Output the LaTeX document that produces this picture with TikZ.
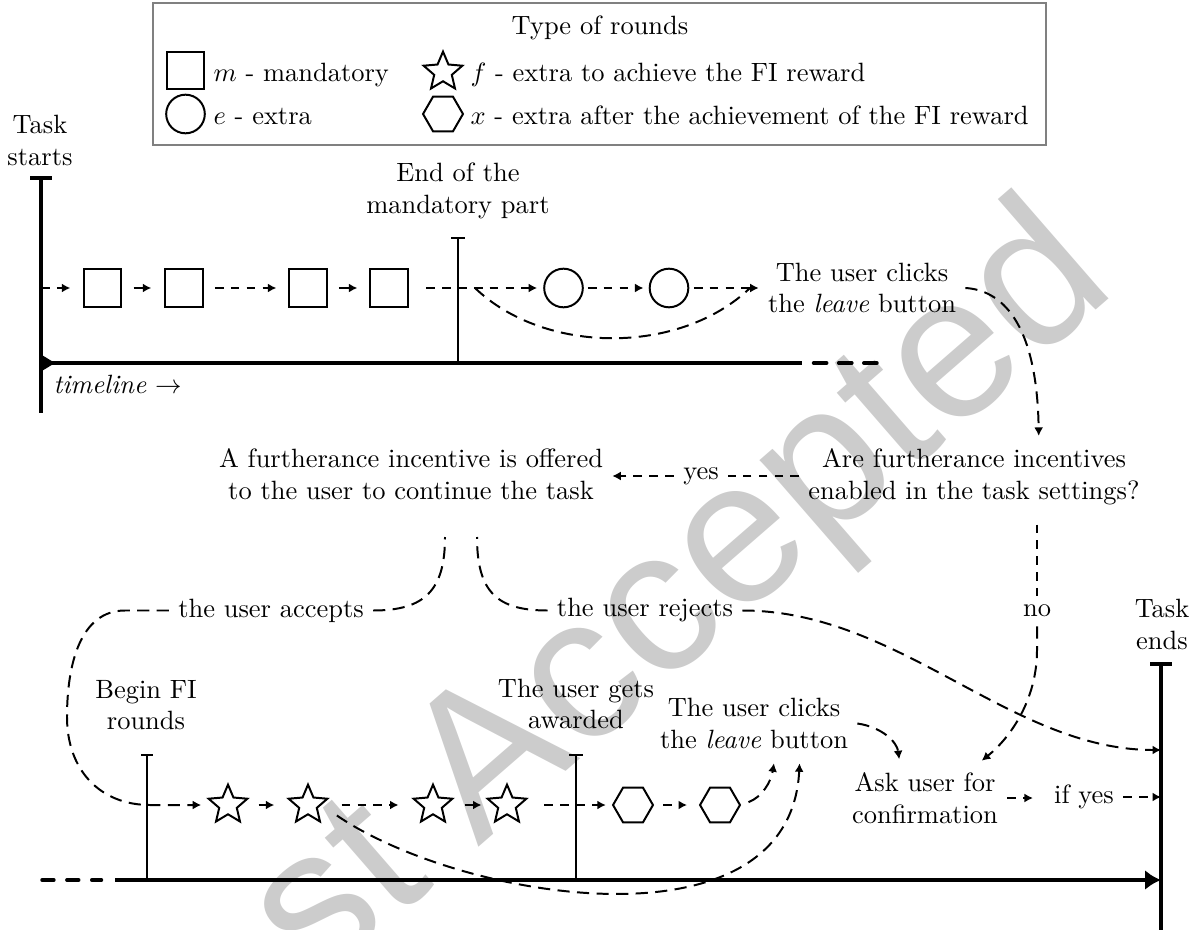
\documentclass[tikz,border=0pt]{standalone}
\usepackage{fontspec}
\newfontfamily\wmfont{Liberation Sans}
\usetikzlibrary{arrows.meta,shapes.geometric,calc}
\pgfdeclarelayer{background}
\pgfsetlayers{background,main}
\begin{document}
\begin{tikzpicture}[x=0.378pt,y=-0.378pt,
  tl/.style={line width=1.3pt},
  ms/.style={line width=0.75pt},
  ah/.style={-{Latex[length=3.2pt,width=3.4pt]}},
  dsh/.style={line width=0.75pt,dash pattern=on 3.3pt off 2.7pt},
  crv/.style={line width=0.75pt,dash pattern=on 4.6pt off 2.8pt},
  arr/.style={line width=0.75pt},
  shp/.style={draw,line width=0.75pt,inner sep=0pt},
  sqr/.style={shp,rectangle,minimum size=14.2pt},
  crc/.style={shp,circle,minimum size=14.6pt},
  str/.style={shp,star,star points=5,star point ratio=2.2,minimum size=15.4pt},
  hex/.style={shp,regular polygon,regular polygon sides=6,minimum size=15.1pt},
  lbl/.style={align=center},
  lg/.style={anchor=base west,inner sep=0pt},
  wm/.style={text=gray!40,font=\wmfont\fontsize{77}{77}\selectfont,inner sep=0pt}
]
\useasboundingbox (0,0) rectangle (1197,930);

% watermark
\begin{pgfonlayer}{background}
\node[wm,anchor=base east,rotate=41] (wmark) at (1120,290) {st Accepted};
\end{pgfonlayer}

% legend
\draw[gray,line width=0.6pt] (153,3) rectangle (1046,145);
\node[anchor=base] (lgt) at (600,35) {Type of rounds};
\node[sqr] (lsq) at (185.5,70.5) {};
\node[lg] (lm) at (213,82) {$m$ - mandatory};
\node[crc] (lci) at (185.5,114) {};
\node[lg] (le) at (213,125) {$e$ - extra};
\node[str] (lst) at (443,72) {};
\node[lg] (lf) at (470,82) {$f$ - extra to achieve the FI reward};
\node[hex] (lhx) at (443,114) {};
\node[lg] (lx) at (470,125) {$x$ - extra after the achievement of the FI reward};

% ---------- top timeline ----------
\node[lbl] (ts) at (40,140.5) {Task\\starts};
\coordinate (tsTop) at (41,178);
\coordinate (tsBot) at (41,413);
\draw[tl] (tsTop) -- (tsBot);
\draw[tl] (30,178) -- (52,178);
\coordinate (tl1s) at (41,363);
\coordinate (tl1e) at (802,363);
\draw[tl] (tl1s) -- (tl1e);
\draw[tl,line cap=round,dash pattern=on 5pt off 4.5pt] (813.5,363) -- (878.5,363);
\fill (41,354.5) -- (55,363) -- (41,371.5) -- cycle;
\node[lg] (tll) at (53,393) {\textit{timeline} $\rightarrow$};

\node[lbl] (endm) at (458,191) {End of the\\mandatory part};
\draw[ms] (458,238) -- (458,363);
\draw[ms] (451,238) -- (465,238);

\node[sqr] (m1) at (102.5,288) {};
\node[sqr] (m2) at (184,288) {};
\node[sqr] (m3) at (308,288) {};
\node[sqr] (m4) at (389,288) {};
\node[crc] (e1) at (563.5,288) {};
\node[crc] (e2) at (669,288) {};
\node[lbl] (lv1) at (862,288) {The user clicks\\the \textit{leave} button};

\coordinate (row1) at (41,288);
\draw[dsh,ah,shorten >=4.7pt] (row1) -- (m1);
\draw[arr,ah,shorten <=4.3pt,shorten >=4.9pt] (m1) -- (m2);
\draw[dsh,ah,shorten <=4.2pt,shorten >=4.5pt] (m2) -- (m3);
\draw[arr,ah,shorten <=4.2pt,shorten >=4.5pt] (m3) -- (m4);
\draw[dsh,ah,shorten <=6.6pt,shorten >=2.3pt] (m4) -- (e1);
\draw[dsh,ah,shorten <=1.5pt,shorten >=2pt] (e1) -- (e2);
\draw[dsh,ah,shorten <=1.7pt] (e2) -- (lv1);
\coordinate (byA) at (475,288);
\coordinate (byB) at (750,288);
\draw[crv] (byA) .. controls (545,355) and (680,355) .. (byB);

% ---------- middle ----------
\node[lbl] (inc) at (411,474) {A furtherance incentive is offered\\to the user to continue the task};
\node[lbl] (are) at (974,476.5) {Are furtherance incentives\\enabled in the task settings?};
\draw[crv,ah,shorten >=1.2pt] (lv1.east) .. controls (1000,290) and (1037,320) .. (are.30);
\node (yes) at (701,476) {yes};
\draw[dsh] (are.west |- yes) -- (yes);
\draw[dsh,ah] (yes.west) -- (yes.west -| inc.east);
\node (no) at (1037,611) {no};
\draw[dsh,shorten <=4pt] (are.south -| no) -- (no);

\node (acc) at (271,610.5) {the user accepts};
\node (rej) at (645,610.5) {the user rejects};
\coordinate (acc0) at (445,537);
\coordinate (rej0) at (477,537);

% ---------- bottom timeline ----------
\node[lbl] (te) at (1162,624.5) {Task\\ends};
\coordinate (teTop) at (1161,664);
\coordinate (teBot) at (1161,930);
\draw[tl] (teTop) -- (teBot);
\draw[tl] (1150,664) -- (1172,664);
\coordinate (te1) at (1161,750);
\coordinate (tl2s) at (115,880);
\coordinate (tl2e) at (1161,880);
\draw[tl,line cap=round,dash pattern=on 4.5pt off 4.9pt] (42,880) -- (101.5,880);
\draw[tl,-{Latex[length=6pt,width=7.5pt]}] (tl2s) -- (tl2e);

\node[lbl] (bfi) at (146,705) {Begin FI\\rounds};
\draw[ms] (147,755) -- (147,880);
\draw[ms] (141,755) -- (153,755);
\node[lbl] (awd) at (576,704) {The user gets\\awarded};
\draw[ms] (576,755) -- (576,880);
\draw[ms] (569,755) -- (583,755);

\node[str] (f1) at (228,805) {};
\node[str] (f2) at (308,805) {};
\node[str] (f3) at (433,805) {};
\node[str] (f4) at (507,805) {};
\node[hex] (x1) at (633,805) {};
\node[hex] (x2) at (720,805) {};

\node[lbl] (lv2) at (754,723.5) {The user clicks\\the \textit{leave} button};
\node[lbl] (ask) at (925,798) {Ask user for\\confirmation};
\node (ify) at (1084,797) {if yes};

% connectors
\draw[crv] (acc.east) .. controls (425,610.5) and (445,590) .. (acc0);
\draw[crv,ah,shorten >=5pt] (acc.west) -- (125,610.5) .. controls (80,610.5) and (67,665) .. (67,717) .. controls (67,770) and (100,805) .. (150,805) -- (f1.west);
\draw[crv] (rej.west) .. controls (497,610.5) and (477,592) .. (rej0);
\draw[crv,ah] (rej.east) .. controls (900,610.5) and (1010,750) .. (te1);
\draw[crv,ah,shorten >=1.5pt] (no) -- (1037,650) .. controls (1037,700) and (1010,738) .. (ask.33);

\draw[arr,ah,shorten <=6.4pt,shorten >=7.6pt] (f1) -- (f2);
\draw[dsh,ah,shorten <=7.6pt,shorten >=7.9pt] (f2) -- (f3);
\draw[arr,ah,shorten <=6.8pt,shorten >=4.5pt] (f3) -- (f4);
\draw[dsh,ah,shorten <=9pt,shorten >=2.3pt] (f4) -- (x1);
\draw[dsh,ah,shorten <=3.4pt,shorten >=4.5pt] (x1) -- (x2);
\draw[crv,ah,shorten <=7pt,shorten >=2pt] (f2.east) .. controls (460,900) and (790,955) .. (lv2.-37);
\draw[crv,ah,shorten <=3pt,shorten >=2pt] (x2.east) .. controls (762,797) and (771,782) .. (lv2.-59);
\draw[crv,ah,shorten >=1.5pt] (lv2.east) .. controls (882,727) and (897,742) .. (ask.126);
\draw[dsh,ah,shorten >=4.5pt] (ask.east) -- (ask.east -| ify.west);
\draw[dsh,ah] (ify.east) -- (ify.east -| teTop);
\end{tikzpicture}
\end{document}
